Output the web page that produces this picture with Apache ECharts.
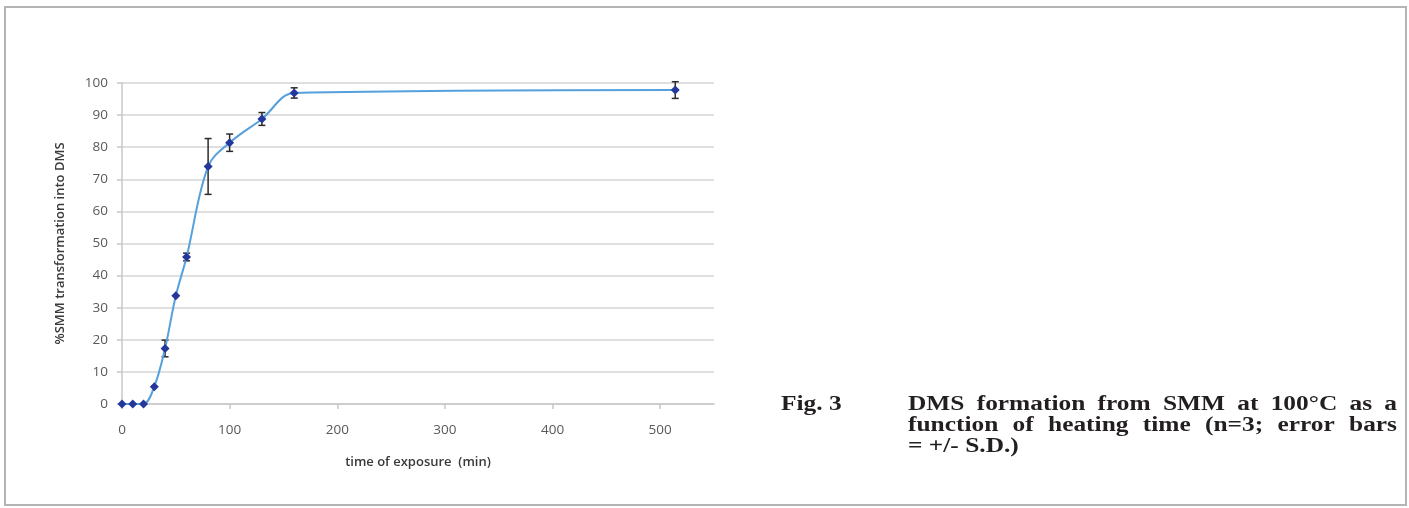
<!DOCTYPE html>
<html>
<head>
<meta charset="utf-8">
<script src="https://cdn.jsdelivr.net/npm/echarts@6/dist/echarts.min.js"></script>
<style>
html,body{margin:0;padding:0;background:#fff;}
#chart{width:1409px;height:508px;}
</style>
</head>
<body>
<div id="chart"></div>
<script>
// ---- data ----
const timeMin = [0, 10, 20, 30, 40, 50, 60, 80, 100, 130, 160, 514];
const pctSMM  = [0, 0, 0, 5.4, 17.3, 33.7, 45.8, 74.0, 81.4, 88.8, 96.9, 97.8];
const sdPct   = [0, 0, 0, 0, 2.6, 0, 1.2, 8.7, 2.7, 2.0, 1.6, 2.6];
const xTicks  = [0, 100, 200, 300, 400, 500];
const yTicks  = [0, 10, 20, 30, 40, 50, 60, 70, 80, 90, 100];
const xAxisName = 'time of exposure  (min)';
const yAxisName = '%SMM transformation into DMS';
const figLabel = 'Fig. 3';
const captionLines = [
  'DMS formation from SMM at 100°C as a',
  'function of heating time (n=3; error bars',
  '= +/- S.D.)'
];

const lineData = timeMin.map((t, i) => [t, pctSMM[i]]);
const errData = [];
timeMin.forEach((t, i) => { if (sdPct[i] > 0) errData.push([t, pctSMM[i] - sdPct[i], pctSMM[i] + sdPct[i]]); });

// caption: Times-like bold, horizontally widened as in the reference, justified lines
const capFont = 'bold 20px "Liberation Serif", "Times New Roman", serif';
const measureCtx = document.createElement('canvas').getContext('2d');
measureCtx.font = capFont;
const capLeft = 908, capRight = 1397, capTop = 405, capLH = 21;
const capW = capRight - capLeft;
const sx = 1.27;
const graphics = [];
graphics.push({
  type: 'rect', shape: {x: 5, y: 7, width: 1401, height: 498},
  style: {fill: 'none', stroke: '#b4b4b4', lineWidth: 2}, silent: true, z: 0
});
function capText(str, x, y) {
  return {type: 'text', x: x, y: y, scaleX: sx, scaleY: 1,
    style: {text: str, font: capFont, fill: '#231f20', textVerticalAlign: 'middle', textAlign: 'left'}};
}
graphics.push(capText(figLabel, 781, capTop));
captionLines.forEach((line, li) => {
  const y = capTop + li * capLH;
  const justify = li < captionLines.length - 1;
  if (!justify) { graphics.push(capText(line, capLeft, y)); return; }
  const words = line.split(' ');
  const widths = words.map(w => measureCtx.measureText(w).width * sx);
  const total = widths.reduce((a, b) => a + b, 0);
  const gap = (capW - total) / (words.length - 1);
  let x = capLeft;
  words.forEach((w, wi) => { graphics.push(capText(w, x, y)); x += widths[wi] + gap; });
});

const chart = echarts.init(document.getElementById('chart'), null, {renderer: 'canvas'});
const labelFont = {fontFamily: '"Open Sans", "Liberation Sans", sans-serif', fontSize: 13.5, color: '#595959'};
const nameFont = {fontFamily: '"Open Sans", sans-serif', fontSize: 13, fontWeight: 600, color: '#3a3a3a'};
chart.setOption({
  animation: false,
  backgroundColor: '#ffffff',
  grid: {left: 122, right: 695, top: 83, bottom: 104},
  xAxis: {
    type: 'value', min: 0, max: 550,
    name: xAxisName, nameLocation: 'middle', nameGap: 52,
    nameTextStyle: nameFont,
    axisLine: {show: true, lineStyle: {color: '#c8c8c8', width: 1.5}},
    axisTick: {show: true, customValues: xTicks, length: 5, inside: false, lineStyle: {color: '#c8c8c8', width: 1.5}},
    axisLabel: Object.assign({customValues: xTicks, margin: 19}, labelFont),
    splitLine: {show: false}
  },
  yAxis: {
    type: 'value', min: 0, max: 100, interval: 10,
    name: yAxisName, nameLocation: 'middle', nameGap: 55, nameRotate: 90,
    nameTextStyle: nameFont,
    axisLine: {show: true, lineStyle: {color: '#c8c8c8', width: 1.5}},
    axisTick: {show: true, length: 5, lineStyle: {color: '#c8c8c8', width: 1.5}},
    axisLabel: Object.assign({margin: 14}, labelFont),
    splitLine: {show: true, lineStyle: {color: '#d4d4d4', width: 1.5}}
  },
  series: [
    {
      type: 'custom', z: 2,
      data: errData,
      renderItem: function (params, api) {
        const x = api.value(0);
        const lo = api.coord([x, api.value(1)]);
        const hi = api.coord([x, api.value(2)]);
        const cap = 3.5;
        const st = {stroke: '#2b2b2b', lineWidth: 1.5, fill: 'none'};
        return {type: 'group', children: [
          {type: 'line', shape: {x1: lo[0], y1: lo[1], x2: hi[0], y2: hi[1]}, style: st},
          {type: 'line', shape: {x1: lo[0] - cap, y1: lo[1], x2: lo[0] + cap, y2: lo[1]}, style: st},
          {type: 'line', shape: {x1: hi[0] - cap, y1: hi[1], x2: hi[0] + cap, y2: hi[1]}, style: st}
        ]};
      }
    },
    {
      type: 'line', z: 3,
      data: lineData,
      smooth: 0.35,
      symbol: 'diamond', symbolSize: 9, showAllSymbol: true,
      lineStyle: {color: '#56a0dc', width: 2},
      itemStyle: {color: '#24379a', borderWidth: 0}
    }
  ],
  graphic: graphics
});
</script>
</body>
</html>
